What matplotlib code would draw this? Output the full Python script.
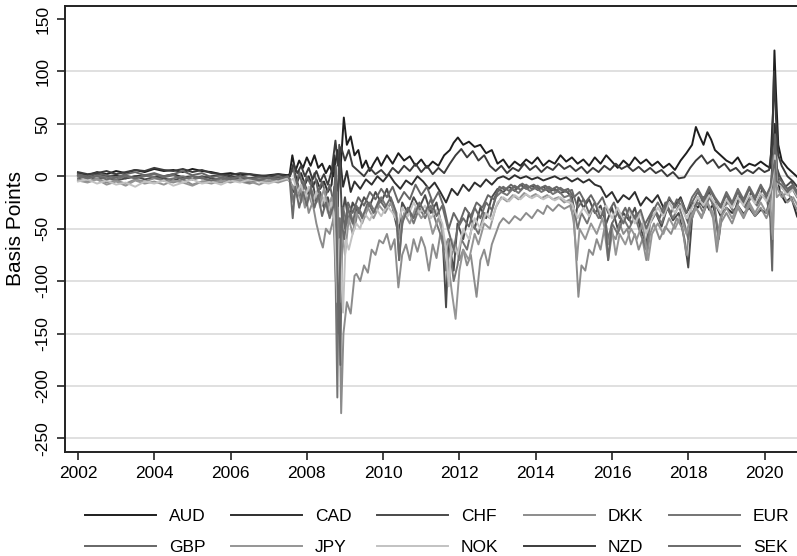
import numpy as np
import matplotlib
matplotlib.use('Agg')
from matplotlib import pyplot as plt

plt.rcParams['font.family'] = ['Liberation Sans', 'DejaVu Sans']
plt.rcParams['axes.unicode_minus'] = False

# currency names and legend greys
names = ['AUD', 'CAD', 'CHF', 'DKK', 'EUR', 'GBP', 'JPY', 'NOK', 'NZD', 'SEK']
colors = ['#1e1e1e', '#2f2f2f', '#4a4a4a', '#8c8c8c', '#747474',
          '#666666', '#959595', '#c2c2c2', '#3c3c3c', '#6a6a6a']

# quarterly readings 2002.0 - 2007.5 (calm period, basis points)
pre_aud = [3, 1, 4, 2, 5, 3, 6, 4, 7, 5, 6, 4, 7, 5, 4, 2, 3, 1, 2, 0, 1, 2, 1]
pre_cad = [1, -1, 2, 0, 1, -2, 0, 1, -1, 0, 2, -1, 0, -2, 0, 1, -1, 0, -2, -1, 0, -1, 1]
pre_chf = [-2, 0, -3, -1, -4, -2, 0, -3, -1, -2, -4, -1, -3, 0, -2, -4, -1, -3, -2, 0, -2, -1, -3]
pre_dkk = [-3, -5, -2, -6, -4, -7, -3, -5, -2, -4, -6, -3, -8, -5, -4, -6, -3, -5, -7, -4, -5, -3, -2]
pre_eur = [0, -2, 1, -1, -3, 0, -2, 1, -1, -4, -2, 0, -3, -1, -5, -2, -4, -3, -6, -3, -2, -4, -1]
pre_gbp = [2, 0, 3, 1, -1, 2, 4, 1, 3, 0, 2, 5, 1, 3, -1, 1, -2, 0, -3, -1, -2, 0, -2]
pre_jpy = [-4, -6, -3, -8, -5, -9, -4, -7, -5, -8, -4, -6, -9, -5, -7, -4, -6, -3, -5, -8, -4, -6, -3]
pre_nok = [-5, -3, -7, -4, -8, -6, -10, -5, -7, -4, -9, -6, -3, -7, -5, -8, -4, -6, -3, -5, -7, -4, -2]
pre_nzd = [4, 2, 3, 5, 2, 4, 6, 5, 8, 6, 5, 7, 4, 6, 3, 2, 1, 3, 2, 1, 0, 2, 0]
pre_sek = [1, -2, 0, -3, -1, 1, -2, 0, 2, -1, 1, -3, 0, -2, -4, -1, -3, 0, -2, -4, -1, -3, 0]

# (year, basis points) readings from mid 2007 on
aud = [(2007.55, 2), (2007.62, 20), (2007.7, 5), (2007.8, 15), (2007.9, 8), (2008.0, 18), (2008.1, 10),
       (2008.2, 20), (2008.3, 8), (2008.4, 12), (2008.5, 3), (2008.6, 10), (2008.7, 0), (2008.8, 25),
       (2008.88, 5), (2008.97, 56), (2009.05, 30), (2009.15, 38), (2009.25, 20), (2009.35, 25),
       (2009.45, 8), (2009.55, 15), (2009.65, 5), (2009.75, 12), (2009.85, 18), (2009.95, 10),
       (2010.1, 20), (2010.25, 12), (2010.4, 22), (2010.55, 15), (2010.7, 19), (2010.85, 10),
       (2011.0, 16), (2011.15, 8), (2011.3, 14), (2011.45, 10), (2011.6, 20), (2011.75, 25),
       (2011.85, 32), (2011.96, 37), (2012.1, 30), (2012.25, 33), (2012.4, 28), (2012.55, 30),
       (2012.7, 22), (2012.85, 25), (2013.0, 12), (2013.15, 16), (2013.3, 8), (2013.45, 14),
       (2013.6, 10), (2013.75, 16), (2013.9, 12), (2014.05, 18), (2014.2, 10), (2014.35, 15),
       (2014.5, 12), (2014.65, 20), (2014.8, 14), (2014.95, 18), (2015.1, 12), (2015.25, 16),
       (2015.4, 10), (2015.55, 18), (2015.7, 12), (2015.85, 20), (2016.0, 14), (2016.15, 8),
       (2016.3, 15), (2016.45, 10), (2016.6, 18), (2016.75, 12), (2016.9, 16), (2017.05, 10),
       (2017.2, 14), (2017.35, 8), (2017.5, 12), (2017.65, 6), (2017.8, 15), (2017.95, 22),
       (2018.1, 30), (2018.2, 47), (2018.3, 38), (2018.4, 30), (2018.5, 42), (2018.6, 35),
       (2018.7, 25), (2018.85, 20), (2019.0, 15), (2019.15, 12), (2019.3, 18), (2019.45, 8),
       (2019.6, 12), (2019.75, 10), (2019.9, 14), (2020.05, 10), (2020.15, 8), (2020.22, 60),
       (2020.26, 120), (2020.3, 80), (2020.36, 30), (2020.45, 15), (2020.6, 8), (2020.75, 3),
       (2020.9, -2), (2021.0, -5)]

nzd = [(2007.55, 0), (2007.65, 12), (2007.75, 3), (2007.85, 10), (2007.95, 0), (2008.05, 8),
       (2008.15, -3), (2008.25, 5), (2008.35, -5), (2008.45, 2), (2008.55, -8), (2008.65, 5),
       (2008.75, 34), (2008.82, 10), (2008.9, 28), (2009.0, 15), (2009.1, 25), (2009.2, 10),
       (2009.35, 5), (2009.5, 0), (2009.65, 8), (2009.8, 2), (2009.95, 6), (2010.1, 0), (2010.25, 8),
       (2010.4, 3), (2010.55, 10), (2010.7, 5), (2010.85, 12), (2011.0, 4), (2011.15, 10),
       (2011.3, 2), (2011.45, 8), (2011.6, 3), (2011.75, 12), (2011.9, 20), (2012.05, 26),
       (2012.2, 18), (2012.35, 24), (2012.5, 15), (2012.65, 20), (2012.8, 10), (2012.95, 5),
       (2013.1, 10), (2013.25, 3), (2013.4, 8), (2013.55, 5), (2013.7, 12), (2013.85, 6),
       (2014.0, 10), (2014.15, 4), (2014.3, 9), (2014.45, 6), (2014.6, 12), (2014.75, 7),
       (2014.9, 10), (2015.05, 5), (2015.2, 9), (2015.35, 3), (2015.5, 8), (2015.65, 4),
       (2015.8, 10), (2015.95, 6), (2016.1, 12), (2016.25, 7), (2016.4, 10), (2016.55, 5),
       (2016.7, 9), (2016.85, 4), (2017.0, 8), (2017.15, 3), (2017.3, 6), (2017.45, 0),
       (2017.6, 4), (2017.75, -2), (2017.9, -1), (2018.05, 8), (2018.2, 15), (2018.35, 20),
       (2018.5, 12), (2018.65, 16), (2018.8, 8), (2018.95, 12), (2019.1, 5), (2019.25, 8),
       (2019.4, 2), (2019.55, 6), (2019.7, 3), (2019.85, 8), (2020.0, 4), (2020.12, 6),
       (2020.2, 30), (2020.25, 100), (2020.3, 55), (2020.36, 20), (2020.45, 10), (2020.6, 0),
       (2020.75, -5), (2020.9, -12), (2021.0, -15)]

cad = [(2007.55, 0), (2007.65, 8), (2007.75, -5), (2007.85, 3), (2007.95, -8), (2008.05, 0),
       (2008.15, -10), (2008.25, -3), (2008.35, -12), (2008.45, -5), (2008.55, -15), (2008.65, -8),
       (2008.72, 20), (2008.8, -20), (2008.88, 15), (2008.95, -10), (2009.05, 5), (2009.15, -15),
       (2009.25, -5), (2009.4, -12), (2009.55, -3), (2009.7, -8), (2009.85, 0), (2010.0, -5),
       (2010.15, 2), (2010.3, -6), (2010.45, -12), (2010.6, -4), (2010.75, -8), (2010.9, 0),
       (2011.05, -5), (2011.2, -12), (2011.35, -6), (2011.5, -15), (2011.65, -25), (2011.8, -12),
       (2011.95, -18), (2012.1, -8), (2012.25, -14), (2012.4, -6), (2012.55, -10), (2012.7, -3),
       (2012.85, -8), (2013.0, -2), (2013.15, 0), (2013.3, -3), (2013.45, 1), (2013.6, -2),
       (2013.75, 0), (2013.9, -3), (2014.05, -1), (2014.2, -4), (2014.35, -2), (2014.5, 0),
       (2014.65, -3), (2014.8, -1), (2014.95, -5), (2015.1, -2), (2015.25, -6), (2015.4, -3),
       (2015.55, -8), (2015.7, -10), (2015.85, -20), (2016.0, -15), (2016.15, -25), (2016.3, -18),
       (2016.45, -22), (2016.6, -15), (2016.75, -28), (2016.9, -20), (2017.05, -25), (2017.2, -18),
       (2017.35, -30), (2017.5, -22), (2017.65, -28), (2017.8, -20), (2017.95, -35), (2018.1, -25),
       (2018.25, -30), (2018.4, -20), (2018.55, -32), (2018.7, -25), (2018.85, -38), (2019.0, -30),
       (2019.15, -35), (2019.3, -28), (2019.45, -36), (2019.6, -30), (2019.75, -38), (2019.9, -32),
       (2020.05, -35), (2020.15, -20), (2020.22, 20), (2020.27, 50), (2020.32, 10), (2020.4, -15),
       (2020.55, -25), (2020.7, -20), (2020.85, -38), (2020.95, -45), (2021.0, -43)]

chf = [(2007.55, -3), (2007.65, -15), (2007.75, -5), (2007.85, -20), (2007.95, -8), (2008.05, -18),
       (2008.15, -5), (2008.25, -25), (2008.35, -15), (2008.45, -30), (2008.55, -20), (2008.65, -35),
       (2008.72, -10), (2008.78, -90), (2008.85, 30), (2008.92, -40), (2009.0, -20), (2009.1, -45),
       (2009.2, -25), (2009.35, -35), (2009.5, -20), (2009.65, -28), (2009.8, -15), (2009.95, -25),
       (2010.1, -12), (2010.25, -30), (2010.4, -55), (2010.5, -25), (2010.65, -35), (2010.8, -20),
       (2010.95, -30), (2011.1, -18), (2011.25, -35), (2011.4, -25), (2011.55, -50), (2011.65, -125),
       (2011.72, -60), (2011.85, -90), (2011.95, -45), (2012.1, -60), (2012.25, -35), (2012.4, -50),
       (2012.55, -30), (2012.7, -40), (2012.85, -20), (2013.0, -12), (2013.15, -15), (2013.3, -10),
       (2013.45, -14), (2013.6, -8), (2013.75, -12), (2013.9, -9), (2014.05, -13), (2014.2, -10),
       (2014.35, -15), (2014.5, -12), (2014.65, -16), (2014.8, -14), (2014.95, -20), (2015.05, -40),
       (2015.12, -20), (2015.25, -30), (2015.4, -22), (2015.55, -35), (2015.7, -28), (2015.85, -45),
       (2016.0, -30), (2016.15, -50), (2016.3, -35), (2016.45, -42), (2016.6, -30), (2016.75, -50),
       (2016.9, -65), (2017.0, -40), (2017.15, -35), (2017.3, -48), (2017.45, -30), (2017.6, -42),
       (2017.75, -35), (2017.9, -60), (2018.0, -87), (2018.1, -40), (2018.25, -20), (2018.4, -30),
       (2018.55, -15), (2018.7, -35), (2018.8, -60), (2018.9, -30), (2019.05, -22), (2019.2, -35),
       (2019.35, -18), (2019.5, -28), (2019.65, -15), (2019.8, -25), (2019.95, -12), (2020.1, -20),
       (2020.2, -5), (2020.25, 40), (2020.3, 10), (2020.4, 0), (2020.55, -10), (2020.7, -5),
       (2020.85, -15), (2021.0, -20)]

dkk = [(2007.55, -5), (2007.65, -12), (2007.75, -8), (2007.85, -25), (2007.95, -15), (2008.05, -35),
       (2008.15, -25), (2008.25, -45), (2008.35, -60), (2008.42, -68), (2008.5, -50), (2008.6, -55),
       (2008.7, -40), (2008.76, -100), (2008.82, -30), (2008.9, -226), (2008.96, -150), (2009.05, -120),
       (2009.15, -131), (2009.25, -95), (2009.3, -93), (2009.4, -100), (2009.5, -85), (2009.6, -92),
       (2009.7, -70), (2009.8, -75), (2009.9, -61), (2010.0, -64), (2010.1, -55), (2010.2, -70),
       (2010.3, -60), (2010.4, -106), (2010.5, -75), (2010.6, -65), (2010.7, -80), (2010.8, -60),
       (2010.9, -72), (2011.0, -58), (2011.1, -68), (2011.2, -90), (2011.3, -65), (2011.4, -78),
       (2011.5, -55), (2011.6, -70), (2011.7, -60), (2011.8, -75), (2011.9, -65), (2012.0, -80),
       (2012.1, -70), (2012.2, -85), (2012.3, -75), (2012.45, -115), (2012.55, -80), (2012.65, -70),
       (2012.75, -85), (2012.85, -65), (2012.95, -55), (2013.05, -45), (2013.15, -40), (2013.3, -45),
       (2013.45, -38), (2013.6, -42), (2013.75, -35), (2013.9, -40), (2014.05, -32), (2014.2, -36),
       (2014.3, -28), (2014.45, -33), (2014.6, -27), (2014.75, -31), (2014.9, -28), (2015.0, -40),
       (2015.05, -70), (2015.12, -115), (2015.2, -85), (2015.3, -90), (2015.4, -70), (2015.5, -75),
       (2015.6, -60), (2015.7, -70), (2015.8, -50), (2015.9, -80), (2016.0, -55), (2016.1, -60),
       (2016.2, -45), (2016.3, -55), (2016.4, -50), (2016.5, -65), (2016.6, -55), (2016.7, -70),
       (2016.8, -60), (2016.9, -80), (2017.0, -55), (2017.1, -45), (2017.25, -60), (2017.4, -48),
       (2017.55, -55), (2017.7, -40), (2017.85, -50), (2017.95, -75), (2018.05, -45), (2018.2, -30),
       (2018.35, -40), (2018.5, -25), (2018.65, -40), (2018.75, -72), (2018.85, -45), (2019.0, -35),
       (2019.15, -45), (2019.3, -30), (2019.45, -40), (2019.6, -28), (2019.75, -38), (2019.9, -30),
       (2020.05, -40), (2020.15, -30), (2020.22, 10), (2020.27, 30), (2020.32, -10), (2020.45, -20),
       (2020.6, -15), (2020.75, -25), (2020.9, -35), (2021.0, -52)]

eur = [(2007.55, -2), (2007.65, -25), (2007.72, -8), (2007.8, -18), (2007.9, -5), (2008.0, -15),
       (2008.1, -10), (2008.2, -22), (2008.3, -12), (2008.4, -28), (2008.5, -20), (2008.6, -35),
       (2008.68, -25), (2008.74, -60), (2008.8, -211), (2008.85, -40), (2008.9, -70), (2008.95, -30),
       (2009.05, -45), (2009.15, -35), (2009.25, -50), (2009.35, -30), (2009.5, -40), (2009.65, -25),
       (2009.8, -35), (2009.95, -20), (2010.1, -30), (2010.25, -25), (2010.35, -40), (2010.42, -80),
       (2010.5, -40), (2010.65, -30), (2010.8, -45), (2010.95, -30), (2011.1, -40), (2011.25, -28),
       (2011.4, -45), (2011.55, -60), (2011.65, -90), (2011.75, -70), (2011.85, -100), (2011.95, -85),
       (2012.05, -60), (2012.2, -70), (2012.35, -45), (2012.5, -55), (2012.65, -35), (2012.8, -40),
       (2012.95, -20), (2013.1, -15), (2013.25, -18), (2013.4, -12), (2013.55, -16), (2013.7, -10),
       (2013.85, -14), (2014.0, -11), (2014.15, -15), (2014.3, -12), (2014.45, -17), (2014.6, -14),
       (2014.75, -20), (2014.9, -18), (2015.0, -30), (2015.1, -50), (2015.2, -35), (2015.35, -45),
       (2015.5, -30), (2015.65, -40), (2015.8, -35), (2015.9, -60), (2016.0, -45), (2016.15, -55),
       (2016.3, -40), (2016.45, -50), (2016.6, -38), (2016.75, -55), (2016.9, -70), (2017.0, -45),
       (2017.15, -35), (2017.3, -45), (2017.45, -30), (2017.6, -40), (2017.75, -28), (2017.9, -45),
       (2018.0, -60), (2018.1, -35), (2018.25, -25), (2018.4, -35), (2018.55, -20), (2018.7, -30),
       (2018.78, -55), (2018.9, -30), (2019.05, -25), (2019.2, -35), (2019.35, -22), (2019.5, -30),
       (2019.65, -20), (2019.8, -28), (2019.95, -18), (2020.1, -25), (2020.2, -10), (2020.25, 25),
       (2020.3, 0), (2020.4, -8), (2020.55, -15), (2020.7, -10), (2020.85, -20), (2021.0, -25)]

gbp = [(2007.55, 0), (2007.65, 10), (2007.72, -10), (2007.8, 5), (2007.9, -12), (2008.0, 0),
       (2008.1, -8), (2008.2, 3), (2008.3, -15), (2008.4, -5), (2008.5, -18), (2008.6, -8),
       (2008.7, -25), (2008.76, 10), (2008.82, -60), (2008.88, -180), (2008.93, -30), (2009.0, -50),
       (2009.08, -25), (2009.2, -35), (2009.35, -20), (2009.5, -28), (2009.65, -15), (2009.8, -22),
       (2009.95, -12), (2010.1, -20), (2010.25, -10), (2010.4, -25), (2010.55, -15), (2010.7, -22),
       (2010.85, -8), (2011.0, -18), (2011.15, -10), (2011.3, -25), (2011.45, -15), (2011.6, -30),
       (2011.72, -50), (2011.85, -35), (2012.0, -45), (2012.15, -30), (2012.3, -38), (2012.45, -25),
       (2012.6, -30), (2012.75, -18), (2012.9, -22), (2013.05, -10), (2013.2, -13), (2013.35, -8),
       (2013.5, -12), (2013.65, -7), (2013.8, -11), (2013.95, -8), (2014.1, -12), (2014.25, -9),
       (2014.4, -13), (2014.55, -10), (2014.7, -14), (2014.85, -12), (2015.0, -20), (2015.15, -15),
       (2015.3, -25), (2015.45, -18), (2015.6, -28), (2015.75, -20), (2015.9, -35), (2016.05, -25),
       (2016.2, -40), (2016.35, -30), (2016.5, -45), (2016.65, -35), (2016.8, -50), (2016.95, -40),
       (2017.1, -30), (2017.25, -40), (2017.4, -25), (2017.55, -35), (2017.7, -22), (2017.85, -30),
       (2018.0, -45), (2018.1, -25), (2018.25, -15), (2018.4, -25), (2018.55, -12), (2018.7, -22),
       (2018.85, -30), (2019.0, -18), (2019.15, -28), (2019.3, -15), (2019.45, -25), (2019.6, -12),
       (2019.75, -22), (2019.9, -10), (2020.05, -20), (2020.15, -40), (2020.2, -90), (2020.24, -20),
       (2020.28, 40), (2020.33, 0), (2020.45, -5), (2020.6, -12), (2020.75, -8), (2020.9, -18),
       (2021.0, -30)]

jpy = [(2007.55, -5), (2007.65, -10), (2007.75, -20), (2007.85, -12), (2007.95, -30), (2008.05, -18),
       (2008.15, -28), (2008.25, -15), (2008.35, -25), (2008.45, -12), (2008.55, -30), (2008.65, -20),
       (2008.72, -45), (2008.78, -15), (2008.86, -120), (2008.92, -50), (2009.0, -75), (2009.1, -40),
       (2009.2, -55), (2009.3, -35), (2009.45, -45), (2009.6, -30), (2009.75, -40), (2009.9, -28),
       (2010.05, -35), (2010.2, -25), (2010.35, -40), (2010.45, -60), (2010.55, -35), (2010.7, -45),
       (2010.85, -30), (2011.0, -40), (2011.15, -32), (2011.3, -55), (2011.45, -40), (2011.6, -60),
       (2011.7, -80), (2011.8, -110), (2011.9, -136), (2012.0, -90), (2012.1, -70), (2012.25, -80),
       (2012.4, -55), (2012.5, -65), (2012.65, -45), (2012.8, -50), (2012.95, -30), (2013.1, -20),
       (2013.25, -24), (2013.4, -18), (2013.55, -22), (2013.7, -16), (2013.85, -20), (2014.0, -17),
       (2014.15, -21), (2014.3, -18), (2014.45, -22), (2014.6, -20), (2014.75, -25), (2014.9, -22),
       (2015.0, -45), (2015.08, -80), (2015.15, -50), (2015.3, -60), (2015.45, -45), (2015.6, -55),
       (2015.75, -40), (2015.9, -65), (2016.0, -50), (2016.1, -75), (2016.2, -55), (2016.35, -65),
       (2016.5, -50), (2016.65, -60), (2016.8, -45), (2016.95, -80), (2017.05, -55), (2017.2, -45),
       (2017.35, -55), (2017.5, -40), (2017.65, -50), (2017.8, -38), (2017.95, -55), (2018.05, -40),
       (2018.2, -30), (2018.35, -38), (2018.5, -25), (2018.65, -35), (2018.75, -65), (2018.85, -40),
       (2019.0, -30), (2019.15, -40), (2019.3, -28), (2019.45, -38), (2019.6, -25), (2019.75, -35),
       (2019.9, -25), (2020.05, -35), (2020.15, -25), (2020.22, -60), (2020.26, 10), (2020.32, -20),
       (2020.45, -15), (2020.6, -25), (2020.75, -20), (2020.9, -30), (2021.0, -38)]

nok = [(2007.55, -5), (2007.65, -2), (2007.75, -15), (2007.85, -8), (2007.95, -20), (2008.05, -10),
       (2008.15, -25), (2008.25, -15), (2008.35, -30), (2008.45, -20), (2008.55, -35), (2008.65, -25),
       (2008.72, -40), (2008.8, -120), (2008.86, -60), (2008.95, -130), (2009.02, -60), (2009.1, -70),
       (2009.2, -55), (2009.3, -45), (2009.4, -50), (2009.5, -35), (2009.65, -42), (2009.8, -30),
       (2009.95, -38), (2010.1, -28), (2010.25, -35), (2010.4, -45), (2010.5, -30), (2010.65, -38),
       (2010.8, -25), (2010.95, -35), (2011.1, -28), (2011.25, -40), (2011.4, -32), (2011.55, -45),
       (2011.65, -70), (2011.72, -105), (2011.8, -60), (2011.95, -75), (2012.1, -50), (2012.25, -60),
       (2012.4, -40), (2012.55, -50), (2012.7, -35), (2012.85, -42), (2013.0, -25), (2013.15, -20),
       (2013.3, -24), (2013.45, -18), (2013.6, -22), (2013.75, -17), (2013.9, -21), (2014.05, -18),
       (2014.2, -22), (2014.35, -19), (2014.5, -23), (2014.65, -20), (2014.8, -24), (2014.95, -26),
       (2015.1, -40), (2015.25, -30), (2015.4, -38), (2015.55, -25), (2015.7, -35), (2015.85, -28),
       (2016.0, -40), (2016.15, -30), (2016.3, -42), (2016.45, -32), (2016.6, -45), (2016.75, -35),
       (2016.9, -55), (2017.05, -40), (2017.2, -30), (2017.35, -38), (2017.5, -25), (2017.65, -35),
       (2017.8, -28), (2017.95, -40), (2018.1, -30), (2018.25, -20), (2018.4, -28), (2018.55, -18),
       (2018.7, -26), (2018.85, -35), (2019.0, -22), (2019.15, -30), (2019.3, -20), (2019.45, -28),
       (2019.6, -18), (2019.75, -26), (2019.9, -16), (2020.05, -24), (2020.15, -15), (2020.22, 0),
       (2020.27, 20), (2020.33, -5), (2020.45, -10), (2020.6, -18), (2020.75, -12), (2020.9, -22),
       (2021.0, -28)]

sek = [(2007.55, -3), (2007.63, -40), (2007.7, -10), (2007.8, -30), (2007.9, -15), (2008.0, -28),
       (2008.1, -12), (2008.2, -30), (2008.3, -18), (2008.4, -38), (2008.5, -25), (2008.6, -40),
       (2008.7, -28), (2008.76, -5), (2008.83, -150), (2008.9, -40), (2008.98, -60), (2009.08, -30),
       (2009.2, -45), (2009.3, -28), (2009.45, -40), (2009.6, -25), (2009.75, -35), (2009.9, -22),
       (2010.05, -30), (2010.2, -20), (2010.35, -35), (2010.42, -80), (2010.5, -45), (2010.65, -30),
       (2010.8, -40), (2010.95, -25), (2011.1, -35), (2011.25, -22), (2011.4, -38), (2011.55, -28),
       (2011.7, -50), (2011.85, -70), (2011.95, -50), (2012.1, -40), (2012.25, -48), (2012.4, -30),
       (2012.55, -40), (2012.7, -25), (2012.85, -32), (2013.0, -15), (2013.15, -10), (2013.3, -14),
       (2013.45, -9), (2013.6, -13), (2013.75, -8), (2013.9, -12), (2014.05, -9), (2014.2, -13),
       (2014.35, -10), (2014.5, -14), (2014.65, -11), (2014.8, -15), (2014.95, -13), (2015.1, -30),
       (2015.25, -22), (2015.4, -35), (2015.55, -25), (2015.7, -40), (2015.8, -30), (2015.9, -80),
       (2016.0, -45), (2016.15, -35), (2016.3, -45), (2016.45, -30), (2016.6, -40), (2016.75, -32),
       (2016.9, -50), (2017.05, -35), (2017.2, -25), (2017.35, -35), (2017.5, -20), (2017.65, -30),
       (2017.8, -22), (2017.95, -35), (2018.1, -20), (2018.25, -12), (2018.4, -22), (2018.55, -10),
       (2018.7, -20), (2018.85, -28), (2019.0, -15), (2019.15, -25), (2019.3, -12), (2019.45, -22),
       (2019.6, -10), (2019.75, -20), (2019.9, -8), (2020.05, -18), (2020.15, -10), (2020.22, 5),
       (2020.27, 15), (2020.32, -5), (2020.45, -8), (2020.6, -15), (2020.75, -10), (2020.9, -20),
       (2021.0, -25)]

pres = [pre_aud, pre_cad, pre_chf, pre_dkk, pre_eur, pre_gbp, pre_jpy, pre_nok, pre_nzd, pre_sek]
posts = [aud, cad, chf, dkk, eur, gbp, jpy, nok, nzd, sek]

fig = plt.figure(figsize=(7.97, 5.56), dpi=100)
ax = fig.add_axes([65/797, 1-452/556, 1-65/797+0.01, (452-6)/556])

lines = []
for name, col, pre, post in zip(names, colors, pres, posts):
    t = list(np.linspace(2002.0, 2007.5, len(pre))) + [p[0] for p in post]
    v = list(pre) + [p[1] for p in post]
    ln, = ax.plot(t, v, color=col, lw=1.4, label=name)
    lines.append(ln)

ax.set_xlim(2001.66, 2021.06)
ax.set_ylim(-263, 162.4)
ax.set_xticks(range(2002, 2021, 2))
yt = list(range(-250, 151, 50))
ax.set_yticks(yt)
ax.set_yticklabels([str(y) for y in yt], rotation=90, va='center', ha='center')
for yv in range(-250, 101, 50):
    ax.axhline(yv, color='#dadada', lw=1.2, zorder=0)
ax.tick_params(axis='both', labelsize=12.5, length=6, width=1.2, color='#222222')
ax.tick_params(axis='x', pad=4)
ax.tick_params(axis='y', pad=10)
ax.spines['right'].set_visible(False)
for s in ['left', 'bottom', 'top']:
    ax.spines[s].set_linewidth(1.4)
    ax.spines[s].set_color('#222222')
ax.set_ylabel('Basis Points', fontsize=15)
ax.yaxis.set_label_coords(-0.054, 0.5)

# legend is filled column by column, so interleave the two rows
order = [0, 5, 1, 6, 2, 7, 3, 8, 4, 9]
leg = fig.legend([lines[i] for i in order], [names[i] for i in order],
                 loc='center', bbox_to_anchor=(437/797, 1-532/556), ncol=5, frameon=False,
                 fontsize=12.5, handlelength=4.1, handletextpad=0.75, columnspacing=1.45,
                 labelspacing=0.9, borderpad=0)
plt.savefig('out.png', dpi=100)
